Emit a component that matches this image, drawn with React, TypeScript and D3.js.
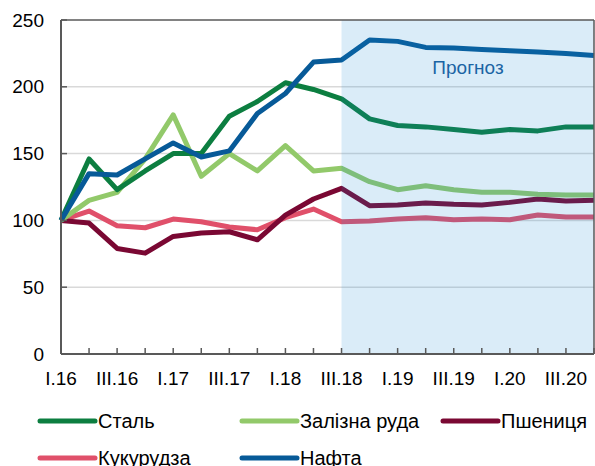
import React from "react";
import * as d3 from "d3";

// quarters I.16 .. IV.20
const quarters = [
  "I.16", "II.16", "III.16", "IV.16",
  "I.17", "II.17", "III.17", "IV.17",
  "I.18", "II.18", "III.18", "IV.18",
  "I.19", "II.19", "III.19", "IV.19",
  "I.20", "II.20", "III.20", "IV.20",
];
const tickLabels = ["I.16", "III.16", "I.17", "III.17", "I.18", "III.18", "I.19", "III.19", "I.20", "III.20"];
const yTicks = [0, 50, 100, 150, 200, 250];
const forecastStart = "III.18";

const steel = [100, 146, 123, 137, 150, 150, 178, 189, 203, 198, 191, 176, 171, 170, 168, 166, 168, 167, 170, 170];
const ironOre = [100, 115, 121, 146, 179, 133, 150, 137, 156, 137, 139, 129, 123, 126, 123, 121, 121, 119.5, 119, 119];
const wheat = [100, 98, 79, 75.5, 88, 90.5, 91.5, 85.5, 104, 116, 124, 111, 111.5, 113, 112, 111.5, 113.5, 116, 114.5, 115];
const corn = [100, 107, 96, 94.5, 101, 99, 95, 93, 102, 108.5, 99, 99.5, 101, 102, 100.5, 101, 100.5, 104, 102.5, 102.5];
const oil = [100, 135, 134, 146, 158, 147.5, 152, 180, 195, 218.5, 220, 235, 234, 229.5, 229, 228, 227, 226, 225, 223.5];

const series = [
  { name: "Сталь", values: steel, color: "#0C7E40" },
  { name: "Залізна руда", values: ironOre, color: "#92C96A" },
  { name: "Пшениця", values: wheat, color: "#7A0833" },
  { name: "Кукурудза", values: corn, color: "#E0506A" },
  { name: "Нафта", values: oil, color: "#075A98" },
];

// draw order: back to front
const drawOrder = ["Кукурудза", "Пшениця", "Залізна руда", "Сталь", "Нафта"];

const W = 595;
const H = 466;
const left = 61, right = 594, top = 20, bottom = 354;
const font = "'Liberation Sans', Arial, sans-serif";
const axisColor = "#595959";

export default function App() {
  const x = d3.scalePoint<string>().domain(quarters).range([left, right]);
  const y = d3.scaleLinear().domain([0, 250]).range([bottom, top]);
  const line = d3
    .line<number>()
    .x((d, i) => x(quarters[i]) as number)
    .y((d) => y(d));

  const fx = x(forecastStart) as number;

  // legend positions (3 columns, 2 rows)
  const legendCols = [40, 242, 443];
  const legendRows = [421, 458];

  return (
    <svg
      width={W}
      height={H}
      style={{ position: "absolute", left: 0, top: 0, fontFamily: font }}
    >
      <rect x={0} y={0} width={W} height={H} fill="#fff" />

      {/* gridlines */}
      {yTicks
        .filter((t) => t > 0 && t < 250)
        .map((t) => (
          <line key={t} x1={left} x2={right} y1={y(t)} y2={y(t)} stroke="#D9D9D9" strokeWidth={1.5} />
        ))}

      {/* series */}
      {drawOrder.map((n) => {
        const s = series.find((d) => d.name === n)!;
        return (
          <path
            key={n}
            d={line(s.values) || ""}
            fill="none"
            stroke={s.color}
            strokeWidth={5}
            strokeLinejoin="round"
          />
        );
      })}

      {/* forecast overlay */}
      <rect x={fx} y={top} width={right - fx} height={bottom - top} fill="rgb(25,135,210)" fillOpacity={0.16} />
      <text x={468} y={74} textAnchor="middle" fontSize={19} fill="#1A64A4">
        Прогноз
      </text>

      {/* frame */}
      <line x1={left} x2={right} y1={top} y2={top} stroke={axisColor} strokeWidth={1.5} />
      <line x1={right} x2={right} y1={top} y2={bottom} stroke={axisColor} strokeWidth={1.5} />
      <line x1={left} x2={left} y1={top} y2={bottom} stroke={axisColor} strokeWidth={2} />
      <line x1={left} x2={right} y1={bottom} y2={bottom} stroke={axisColor} strokeWidth={2} />

      {/* y ticks */}
      {yTicks.map((t) => (
        <g key={t}>
          <line x1={left} x2={left + 6} y1={y(t)} y2={y(t)} stroke={axisColor} strokeWidth={1.5} />
          <text x={44} y={y(t)} dy="0.35em" textAnchor="end" fontSize={19} fill="#000">
            {t}
          </text>
        </g>
      ))}

      {/* x ticks */}
      {quarters.map((q) => (
        <line
          key={q}
          x1={x(q) as number}
          x2={x(q) as number}
          y1={bottom}
          y2={bottom - 6}
          stroke={axisColor}
          strokeWidth={1.5}
        />
      ))}
      {tickLabels.map((q) => (
        <text key={q} x={x(q) as number} y={385} textAnchor="middle" fontSize={19} fill="#000">
          {q}
        </text>
      ))}

      {/* legend */}
      {series.map((s, i) => {
        const cx = legendCols[i % 3];
        const cy = legendRows[Math.floor(i / 3)];
        return (
          <g key={s.name}>
            <line x1={cx} x2={cx + 55} y1={cy} y2={cy} stroke={s.color} strokeWidth={5} strokeLinecap="round" />
            <text x={cx + 58} y={cy} dy="0.35em" fontSize={20} fill="#000">
              {s.name}
            </text>
          </g>
        );
      })}
    </svg>
  );
}
